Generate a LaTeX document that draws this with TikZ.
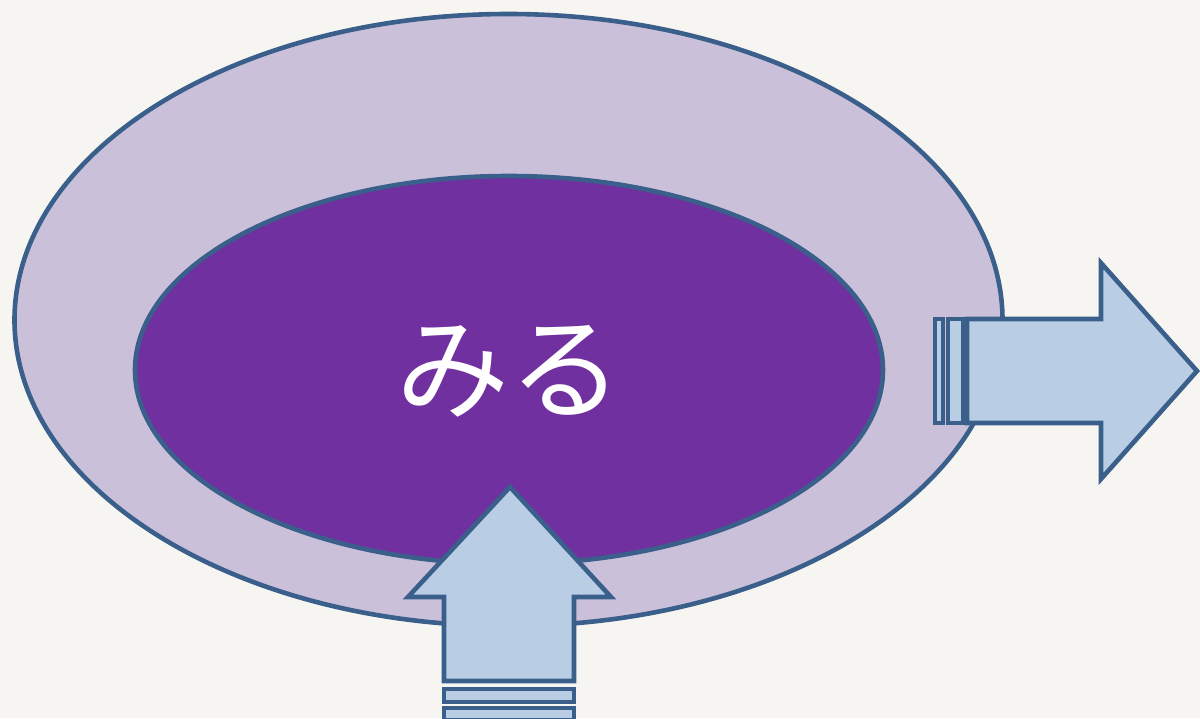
\documentclass[tikz,border=0pt]{standalone}
\usepackage{fontspec}
\usepackage{tikz}
\usetikzlibrary{shapes.geometric,positioning}
\newfontfamily\jpfont{Noto Sans CJK JP}
\definecolor{edgeblue}{HTML}{3A5F8B}
\definecolor{ringfill}{HTML}{CBC0DA}
\definecolor{corefill}{HTML}{7030A0}
\definecolor{arrowfill}{HTML}{B9CDE5}
\definecolor{paper}{HTML}{F6F5F2}

\begin{document}
\begin{tikzpicture}[
  x=0.5pt,
  y=-0.5pt,
  ring/.style={ellipse, draw=edgeblue, fill=ringfill, line width=2.3pt, inner sep=0pt},
  core/.style={ellipse, draw=edgeblue, fill=corefill, line width=2.3pt, inner sep=0pt},
  bigarrow/.style={draw=edgeblue, fill=arrowfill, line width=2.3pt, line join=miter},
  stripe/.style={draw=edgeblue, fill=arrowfill, line width=2.3pt}
]
\fill[paper] (0,0) rectangle (1200,718);
\useasboundingbox (0,0) rectangle (1200,718);

% two ellipses
\node[ring, minimum width=494pt, minimum height=306pt] (outer) at (508.5,320) {};
\node[core, minimum width=374pt, minimum height=194pt] (inner) at (509,370) {};
\node[text=white, font=\jpfont\fontsize{56.5}{60}\selectfont] (word) at (509,371) {みる};

% striped arrow to the right
\coordinate (rtip) at (1197,371);
\draw[stripe] (935,319) rectangle (943,423);
\draw[stripe] (948,319) rectangle (963,423);
\draw[bigarrow] (967,319) -- (1101,319) -- (1101,263) -- (rtip)
  -- (1101,479) -- (1101,423) -- (967,423) -- cycle;

% striped arrow pointing up
\coordinate (utip) at (510,487);
\draw[bigarrow] (444,681) -- (444,597) -- (408,597) -- (utip)
  -- (611,597) -- (574,597) -- (574,681) -- cycle;
\draw[stripe] (444,689) rectangle (574,702);
\draw[stripe] (444,708) rectangle (574,720);
\end{tikzpicture}
\end{document}
